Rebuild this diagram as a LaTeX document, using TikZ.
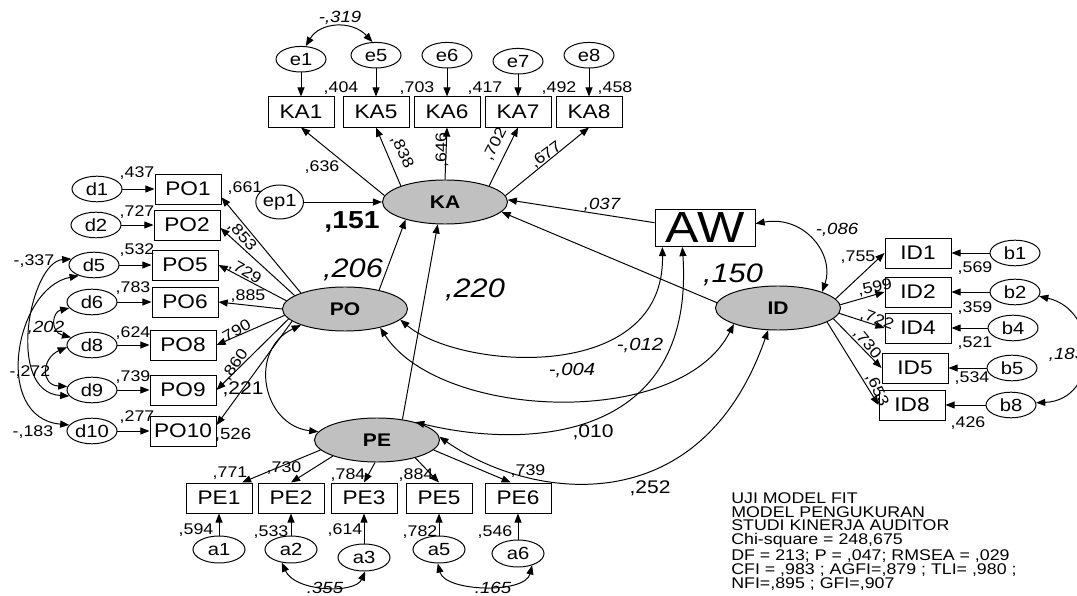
\documentclass[tikz,border=0pt]{standalone}
\usepackage{fontspec}
\setmainfont{Liberation Sans}[FakeStretch=1.15]
\usepackage{xcolor}
\usetikzlibrary{arrows.meta,positioning,shapes.geometric}
\definecolor{latgray}{RGB}{192,192,192}
\tikzset{
  obsbox/.style={draw, line width=0.7pt, minimum width=1.65cm,
                 minimum height=0.75cm, inner sep=0pt,
                 font=\fontsize{14}{14}\selectfont},
  errnode/.style={draw, ellipse, line width=0.7pt, minimum width=1.25cm,
                  minimum height=0.64cm, inner sep=0pt,
                  font=\fontsize{12.5}{12.5}\selectfont},
  latent/.style={draw, ellipse, fill=latgray, line width=0.7pt,
                 minimum width=3.125cm, minimum height=1.1cm, inner sep=0pt,
                 font=\bfseries\fontsize{13}{13}\selectfont},
  loadarrow/.style={-{Triangle[length=6.5pt,width=5pt]}, line width=0.7pt},
  covarrow/.style={{Triangle[length=6.5pt,width=5pt]}-{Triangle[length=6.5pt,width=5pt]},
                   line width=0.7pt},
  numlbl/.style={inner sep=0pt, font=\fontsize{11}{11}\selectfont},
  covlbl/.style={inner sep=0pt, font=\itshape\fontsize{11.5}{11.5}\selectfont},
  midlbl/.style={inner sep=0pt, font=\itshape\fontsize{12.5}{12.5}\selectfont},
  pathlbl/.style={inner sep=0pt, font=\fontsize{13}{13}\selectfont},
  biglbl/.style={inner sep=0pt, font=\itshape\fontsize{19}{19}\selectfont}
}

\begin{document}
\begin{tikzpicture}[x=0.025cm, y=-0.025cm]
  \useasboundingbox (0,0) rectangle (1077,596);
  \clip (0,0) rectangle (1077,596);

  \node[obsbox] (KA1) at (301,112) {KA1};
  \node[obsbox] (KA5) at (376,112) {KA5};
  \node[obsbox] (KA6) at (447,112) {KA6};
  \node[obsbox] (KA7) at (518,112) {KA7};
  \node[obsbox] (KA8) at (589,112) {KA8};
  \node[errnode, above=0.6cm of KA1] (e1) {e1};
  \node[errnode, above=0.7cm of KA5] (e5) {e5};
  \node[errnode, above=0.7cm of KA6] (e6) {e6};
  \node[errnode, above=0.55cm of KA7] (e7) {e7};
  \node[errnode, above=0.7cm of KA8] (e8) {e8};

  \node[latent] (KA) at (445,202) {KA};
  \node[latent] (PO) at (345,309) {PO};
  \node[latent] (PE) at (377,440) {PE};
  \node[latent] (ID) at (778,308) {ID};
  \node[errnode, minimum width=1.1cm, minimum height=0.85cm, left=1.95cm of KA] (ep1) {ep1};
  \node[obsbox, minimum width=2.5cm, minimum height=0.925cm,
        font=\fontsize{31}{31}\selectfont] (AW) at (705,228) {AW};

  \node[obsbox] (PO1) at (188,189) {PO1};
  \node[obsbox] (PO2) at (187,225) {PO2};
  \node[obsbox] (PO5) at (185,265) {PO5};
  \node[obsbox] (PO6) at (185,302) {PO6};
  \node[obsbox] (PO8) at (183,345) {PO8};
  \node[obsbox] (PO9) at (183,390) {PO9};
  \node[obsbox] (PO10) at (183,431) {PO10};
  \node[errnode, left=0.8cm of PO1] (d1) {d1};
  \node[errnode, left=0.8cm of PO2] (d2) {d2};
  \node[errnode, left=0.8cm of PO5] (d5) {d5};
  \node[errnode, left=0.85cm of PO6] (d6) {d6};
  \node[errnode, left=0.8cm of PO8] (d8) {d8};
  \node[errnode, left=0.8cm of PO9] (d9) {d9};
  \node[errnode, left=0.8cm of PO10] (d10) {d10};

  \node[obsbox] (PE1) at (219,498) {PE1};
  \node[obsbox] (PE2) at (291,498) {PE2};
  \node[obsbox] (PE3) at (364,498) {PE3};
  \node[obsbox] (PE5) at (439,498) {PE5};
  \node[obsbox] (PE6) at (518,498) {PE6};
  \node[errnode, minimum width=1.3cm, minimum height=0.675cm, below=0.55cm of PE1] (a1) {a1};
  \node[errnode, minimum width=1.3cm, minimum height=0.675cm, below=0.55cm of PE2] (a2) {a2};
  \node[errnode, minimum width=1.3cm, minimum height=0.675cm, below=0.75cm of PE3] (a3) {a3};
  \node[errnode, minimum width=1.3cm, minimum height=0.675cm, below=0.55cm of PE5] (a5) {a5};
  \node[errnode, minimum width=1.3cm, minimum height=0.675cm, below=0.65cm of PE6] (a6) {a6};

  \node[obsbox] (ID1) at (918,253) {ID1};
  \node[obsbox] (ID2) at (918,292) {ID2};
  \node[obsbox] (ID4) at (918,328) {ID4};
  \node[obsbox] (ID5) at (915,368) {ID5};
  \node[obsbox] (ID8) at (912,405) {ID8};
  \node[errnode, right=0.95cm of ID1] (b1) {b1};
  \node[errnode, right=0.95cm of ID2] (b2) {b2};
  \node[errnode, right=0.9cm of ID4] (b4) {b4};
  \node[errnode, right=0.95cm of ID5] (b5) {b5};
  \node[errnode, right=1cm of ID8] (b8) {b8};

  \draw[loadarrow] (e1) -- (KA1); \draw[loadarrow] (e5) -- (KA5);
  \draw[loadarrow] (e6) -- (KA6); \draw[loadarrow] (e7) -- (KA7);
  \draw[loadarrow] (e8) -- (KA8);
  \draw[loadarrow] (KA.174) -- (KA1.south); \draw[loadarrow] (KA.160) -- (KA5.south);
  \draw[loadarrow] (KA.90) -- (KA6.south); \draw[loadarrow] (KA.20) -- (KA7.south);
  \draw[loadarrow] (KA.6) -- (KA8.south);

  \draw[loadarrow] (d1) -- (PO1); \draw[loadarrow] (d2) -- (PO2);
  \draw[loadarrow] (d5) -- (PO5); \draw[loadarrow] (d6) -- (PO6);
  \draw[loadarrow] (d8) -- (PO8); \draw[loadarrow] (d9) -- (PO9);
  \draw[loadarrow] (d10) -- (PO10);
  \draw[loadarrow] (PO.160) -- (PO1.346); \draw[loadarrow] (PO.165) -- (PO2.355);
  \draw[loadarrow] (PO.172) -- (PO5.east); \draw[loadarrow] (PO.180) -- (PO6.east);
  \draw[loadarrow] (PO.186) -- (PO8.east); \draw[loadarrow] (PO.190) -- (PO9.east);
  \draw[loadarrow] (PO.193) -- (PO10.10);

  \draw[loadarrow] (a1) -- (PE1); \draw[loadarrow] (a2) -- (PE2);
  \draw[loadarrow] (a3) -- (PE3); \draw[loadarrow] (a5) -- (PE5);
  \draw[loadarrow] (a6) -- (PE6);
  \draw[loadarrow] (PE.190) -- (PE1.34); \draw[loadarrow] (PE.200) -- (PE2.north);
  \draw[loadarrow] (PE.265) -- (PE3.north); \draw[loadarrow] (PE.335) -- (PE5.north);
  \draw[loadarrow] (PE.350) -- (PE6.115);

  \draw[loadarrow] (b1) -- (ID1); \draw[loadarrow] (b2) -- (ID2);
  \draw[loadarrow] (b4) -- (ID4); \draw[loadarrow] (b5) -- (ID5);
  \draw[loadarrow] (b8) -- (ID8);
  \draw[loadarrow] (ID.9) -- (ID1.west); \draw[loadarrow] (ID.3) -- (ID2.west);
  \draw[loadarrow] (ID.355) -- (ID4.west); \draw[loadarrow] (ID.349) -- (ID5.west);
  \draw[loadarrow] (ID.344) -- (ID8.west);

  \draw[loadarrow] (ep1) -- (KA);
  \draw[loadarrow] (PO.29) -- (KA.204);
  \draw[loadarrow] (PE.39) -- (KA.252);
  \draw[loadarrow] (AW.174) -- (KA.2);
  \draw[loadarrow] (ID.175) -- (KA.350);

  \draw[covarrow] (e1.70) .. controls (320,22) and (352,20) .. (e5.105);
  \draw[covarrow] (d5.165) .. controls (30,262) and (5,392) .. (d9.195);
  \draw[covarrow] (d5.215) .. controls (15,288) and (-8,418) .. (d10.165);
  \draw[covarrow] (d6.195) .. controls (52,312) and (50,332) .. (d8.160);
  \draw[covarrow] (d8.185) .. controls (42,358) and (40,385) .. (d9.172);
  \draw[covarrow] (PO.200) .. controls (248,350) and (262,425) .. (PE.172);
  \draw[covarrow] (PO.349) .. controls (460,370) and (665,385) .. (AW.204);
  \draw[covarrow] (PO.332) .. controls (440,420) and (680,430) .. (ID.200);
  \draw[covarrow] (PE.25) .. controls (530,450) and (695,440) .. (AW.220);
  \draw[covarrow] (PE.3) .. controls (530,500) and (700,525) .. (ID.246);
  \draw[covarrow] (AW.5) .. controls (805,215) and (835,255) .. (ID.20);
  \draw[covarrow] (a2.235) .. controls (295,592) and (355,594) .. (a3.275);
  \draw[covarrow] (a5.265) .. controls (445,592) and (525,594) .. (a6.320);
  \draw[covarrow] (b2.350) .. controls (1100,310) and (1100,400) .. (b8.5);

  \node[covlbl] (ce1e5) at (340,18) {-,319};
  \node[numlbl] (sKA1) at (341,88) {,404};
  \node[numlbl] (sKA5) at (417,88) {,703};
  \node[numlbl] (sKA6) at (485,88) {,417};
  \node[numlbl] (sKA7) at (559,88) {,492};
  \node[numlbl] (sKA8) at (615,88) {,458};
  \node[numlbl] (lKA1) at (322,167) {,636};
  \node[numlbl, rotate=-65] (lKA5) at (402,152) {,838};
  \node[numlbl, rotate=90] (lKA6) at (442,150) {,646};
  \node[numlbl, rotate=63] (lKA7) at (495,144) {,702};
  \node[numlbl, rotate=37] (lKA8) at (546,155) {,677};

  \node[numlbl] (sPO1) at (137,173) {,437};
  \node[numlbl] (sPO2) at (137,212) {,727};
  \node[numlbl] (sPO5) at (137,250) {,532};
  \node[numlbl] (sPO6) at (133,288) {,783};
  \node[numlbl] (sPO8) at (133,333) {,624};
  \node[numlbl] (sPO9) at (133,377) {,739};
  \node[numlbl] (sPO10) at (137,417) {,277};
  \node[numlbl] (lPO1) at (245,188) {,661};
  \node[numlbl, rotate=-48] (lPO2) at (242,236) {,853};
  \node[numlbl, rotate=-30] (lPO5) at (245,272) {,729};
  \node[numlbl] (lPO6) at (248,296) {,885};
  \node[numlbl, rotate=30] (lPO8) at (235,332) {,790};
  \node[numlbl, rotate=55] (lPO9) at (235,365) {,860};
  \node[pathlbl] (rPE) at (243,389) {,221};
  \node[numlbl, font=\fontsize{11.5}{11.5}\selectfont] (lPO10) at (233,435) {,526};
  \node[numlbl] (cd5d9) at (34,261) {-,337};
  \node[covlbl] (cd6d8) at (46,328) {,202};
  \node[numlbl] (cd5d10) at (30,372) {-,272};
  \node[numlbl] (cd8d9) at (33,432) {-,183};

  \node[inner sep=0pt, font=\bfseries\fontsize{17.5}{17.5}\selectfont] (rKA) at (352,222) {,151};
  \node[biglbl] (gPO) at (353,270) {,206};
  \node[biglbl] (gPE) at (475,290) {,220};
  \node[biglbl] (gID) at (733,275) {,150};
  \node[covlbl] (gAW) at (602,205) {,037};
  \node[covlbl] (cAWID) at (837,230) {-,086};
  \node[midlbl] (cPOAW) at (572,370) {-,004};
  \node[midlbl] (cPEAW) at (640,345) {-,012};
  \node[pathlbl] (cPOID) at (593,432) {,010};
  \node[pathlbl] (cPEID) at (650,488) {,252};

  \node[numlbl] (lPE1) at (230,473) {,771};
  \node[numlbl] (lPE2) at (284,468) {,730};
  \node[numlbl] (lPE3) at (348,475) {,784};
  \node[numlbl] (lPE5) at (416,475) {,884};
  \node[numlbl] (lPE6) at (528,471) {,739};
  \node[numlbl] (sPE1) at (196,530) {,594};
  \node[numlbl] (sPE2) at (271,532) {,533};
  \node[numlbl] (sPE3) at (345,530) {,614};
  \node[numlbl] (sPE5) at (420,532) {,782};
  \node[numlbl] (sPE6) at (495,532) {,546};
  \node[covlbl] (ca2a3) at (325,588) {.355};
  \node[covlbl] (ca5a6) at (493,588) {.165};

  \node[numlbl] (lID1) at (858,257) {,755};
  \node[numlbl, rotate=12] (lID2) at (875,288) {,599};
  \node[numlbl, rotate=-20] (lID4) at (877,320) {,722};
  \node[numlbl, rotate=-50] (lID5) at (867,344) {,730};
  \node[numlbl, rotate=-65] (lID8) at (877,390) {,653};
  \node[numlbl] (sID1) at (975,268) {,569};
  \node[numlbl] (sID2) at (975,308) {,359};
  \node[numlbl] (sID4) at (975,343) {,521};
  \node[numlbl] (sID5) at (972,378) {,534};
  \node[numlbl] (sID8) at (968,423) {,426};
  \node[covlbl] (cb2b8) at (1067,355) {,183};

  \node[anchor=north west, align=left, inner sep=0pt,
        font=\fontsize{11}{9.9}\selectfont] (fit) at (731,492)
    {UJI MODEL FIT\\MODEL PENGUKURAN\\STUDI KINERJA AUDITOR\\
     Chi-square = 248,675\\DF = 213; P = ,047; RMSEA = ,029\\
     CFI = ,983 ; AGFI=,879 ; TLI= ,980 ;\\NFI=,895 ; GFI=,907};
\end{tikzpicture}
\end{document}
